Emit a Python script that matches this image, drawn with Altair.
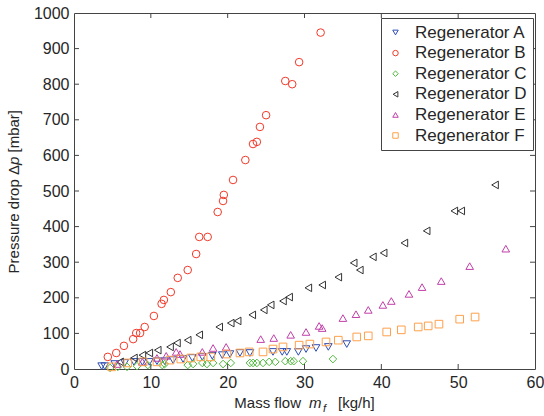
import altair as alt
import pandas as pd

# ---------------- data ----------------
names = ["Regenerator A", "Regenerator B", "Regenerator C",
         "Regenerator D", "Regenerator E", "Regenerator F"]
colors = ["#2f4db3", "#f03a2a", "#4fb83c", "#333333", "#c03fa8", "#ffa04a"]
shapes = ["triangle-down", "circle", "diamond", "triangle-left", "triangle-up", "square"]

a_x = [3.6, 4.0, 5.3, 6.6, 7.8, 8.9, 9.8, 10.8, 11.8, 12.9, 14.2, 15.4, 16.7, 18.0,
       19.3, 20.3, 21.6, 22.9, 25.9, 27.1, 27.7, 29.2, 30.2, 31.5, 33.1, 35.5]
a_y = [8, 8, 14, 17, 20, 20, 20, 22, 22, 25, 28, 31, 34, 37,
       39, 42, 45, 45, 48, 48, 48, 48, 56, 59, 62, 70]

b_x = [4.4, 5.5, 6.5, 7.7, 8.1, 8.6, 9.2, 10.4, 11.4, 11.7, 12.6, 13.5, 14.8, 15.9,
       16.3, 17.4, 18.7, 19.4, 19.5, 20.7, 22.3, 23.3, 23.8, 24.2, 25.0, 27.5, 28.4,
       29.3, 32.1]
b_y = [34, 45, 65, 84, 101, 101, 118, 149, 183, 194, 216, 256, 278, 323,
       371, 371, 441, 472, 489, 531, 587, 632, 638, 680, 713, 809, 800,
       862, 945]

c_x = [4.7, 5.7, 6.9, 8.2, 9.6, 11.5, 11.8, 14.8, 15.5, 16.7, 17.3, 18.1, 19.4, 20.4,
       22.9, 23.3, 23.8, 24.6, 25.4, 26.2, 27.5, 28.2, 28.6, 29.8, 33.7]
c_y = [3, 6, 6, 8, 11, 11, 14, 11, 14, 17, 14, 17, 14, 17,
       17, 17, 17, 17, 20, 20, 22, 22, 22, 22, 28]

d_x = [6.0, 7.8, 8.9, 9.8, 10.9, 12.5, 13.4, 14.8, 16.3, 18.9, 20.4, 21.3, 23.2, 24.7,
       25.6, 27.2, 28.0, 30.5, 32.3, 34.4, 36.4, 37.2, 38.9, 40.3, 43.0, 45.9, 49.5,
       50.4, 54.8]
d_y = [20, 31, 39, 45, 53, 62, 73, 81, 96, 118, 129, 135, 152, 166,
       180, 191, 202, 228, 236, 258, 298, 278, 315, 326, 354, 388, 444,
       444, 517]

e_x = [5.6, 8.9, 10.8, 12.0, 13.3, 13.8, 16.7, 18.1, 19.8, 24.3, 26.0, 28.2, 30.2, 31.9,
       32.3, 35.0, 36.7, 38.3, 40.2, 41.3, 43.6, 45.3, 47.8, 51.5, 56.2]
e_y = [14, 20, 31, 37, 48, 42, 48, 59, 62, 84, 87, 96, 104, 121,
       115, 143, 154, 166, 180, 191, 211, 230, 247, 289, 338]

f_x = [4.9, 7.0, 9.0, 10.8, 12.5, 13.9, 15.2, 16.5, 17.8, 19.9, 21.6, 22.8, 24.6, 25.9,
       27.2, 29.3, 30.7, 32.8, 34.4, 36.8, 38.3, 40.7, 42.6, 44.8, 46.1, 47.5, 50.2, 52.2]
f_y = [6, 17, 20, 20, 25, 28, 31, 34, 34, 42, 45, 48, 48, 56,
       62, 67, 70, 76, 81, 90, 93, 104, 110, 118, 121, 126, 140, 146]

x_labels = [0, 10, 20, 30, 40, 50, 60]
y_labels = [0, 100, 200, 300, 400, 500, 600, 700, 800, 900, 1000]
x_inner = [10, 20, 30, 40, 50]
y_inner = [100, 200, 300, 400, 500, 600, 700, 800, 900]

# ---------------- build tables ----------------
series = [(names[0], a_x, a_y), (names[1], b_x, b_y), (names[2], c_x, c_y),
          (names[3], d_x, d_y), (names[4], e_x, e_y), (names[5], f_x, f_y)]
rows = []
for nm, xs, ys in series:
    for xv, yv in zip(xs, ys):
        rows.append({"series": nm, "flow": xv, "dp": yv})
df = pd.DataFrame(rows)

W, H = 461, 356
FONT = "Liberation Sans"
TXT = "#262626"
FRAME = "#444444"

xscale = alt.Scale(domain=[0, 60], nice=False, zero=False)
yscale = alt.Scale(domain=[0, 1000], nice=False, zero=False)

axis_common = dict(title=None, ticks=False, domain=False, grid=False, format="d",
                   labelFont=FONT, labelFontSize=16, labelColor=TXT, labelPadding=5)
xaxis = alt.Axis(values=x_labels, labelFlush=False, **axis_common)
yaxis = alt.Axis(values=y_labels, labelFlush=False, **axis_common)

legend = alt.Legend(title=None, orient="none", legendX=307, legendY=5,
                    strokeColor=FRAME, fillColor="white", padding=6,
                    labelFont=FONT, labelFontSize=17, labelColor=TXT,
                    symbolSize=30, symbolStrokeWidth=1, rowPadding=2.6,
                    labelOffset=11, cornerRadius=0, labelLimit=300)

points = alt.Chart(df).mark_point(filled=False, size=58, strokeWidth=1, opacity=1).encode(
    x=alt.X("flow:Q", scale=xscale, axis=xaxis),
    y=alt.Y("dp:Q", scale=yscale, axis=yaxis),
    color=alt.Color("series:N", scale=alt.Scale(domain=names, range=colors), legend=legend),
    shape=alt.Shape("series:N", scale=alt.Scale(domain=names, range=shapes), legend=legend),
)

xt = pd.DataFrame({"v": x_inner})
yt = pd.DataFrame({"v": y_inner})
tick_len = 5
bt = alt.Chart(xt).mark_rule(color=FRAME, strokeWidth=1).encode(
    x=alt.X("v:Q", scale=xscale, axis=xaxis), y=alt.value(H), y2=alt.value(H - tick_len))
tt = alt.Chart(xt).mark_rule(color=FRAME, strokeWidth=1).encode(
    x=alt.X("v:Q", scale=xscale, axis=xaxis), y=alt.value(0), y2=alt.value(tick_len))
lt = alt.Chart(yt).mark_rule(color=FRAME, strokeWidth=1).encode(
    y=alt.Y("v:Q", scale=yscale, axis=yaxis), x=alt.value(0), x2=alt.value(tick_len))
rt = alt.Chart(yt).mark_rule(color=FRAME, strokeWidth=1).encode(
    y=alt.Y("v:Q", scale=yscale, axis=yaxis), x=alt.value(W), x2=alt.value(W - tick_len))

# ---------------- axis titles (with italic symbols / subscript) ----------------
def label(text, x, y, align="left", italic=False, size=15, angle=0):
    kw = dict(align=align, baseline="alphabetic", font=FONT, fontSize=size, color=TXT)
    if italic:
        kw["fontStyle"] = "italic"
    if angle:
        kw["angle"] = angle
    return alt.Chart(pd.DataFrame({"t": [text]})).mark_text(**kw).encode(
        text="t:N", x=alt.value(x), y=alt.value(y))

xb = 395
xtitle = [
    label("Mass flow", 227, xb, align="right"),
    label("m", 235, xb, italic=True),
    label("f", 249, xb + 4, italic=True, size=11),
    label("[kg/h]", 264, xb),
]
yx = -55
py = 152
ytitle = [
    label("Pressure drop \u0394", yx, py, align="right", angle=270),
    label("p", yx, py, italic=True, angle=270),
    label("[mbar]", yx, py - 12.5, angle=270),
]

chart = alt.layer(points, bt, tt, lt, rt, *xtitle, *ytitle).properties(
    width=W, height=H,
    padding={"left": 74, "top": 13, "right": 9, "bottom": 47},
    autosize=alt.AutoSizeParams(type="none"),
    background="white",
).configure_view(stroke=FRAME, strokeWidth=1)

chart.save("out.html", embed_options={"renderer": "svg", "actions": False})
